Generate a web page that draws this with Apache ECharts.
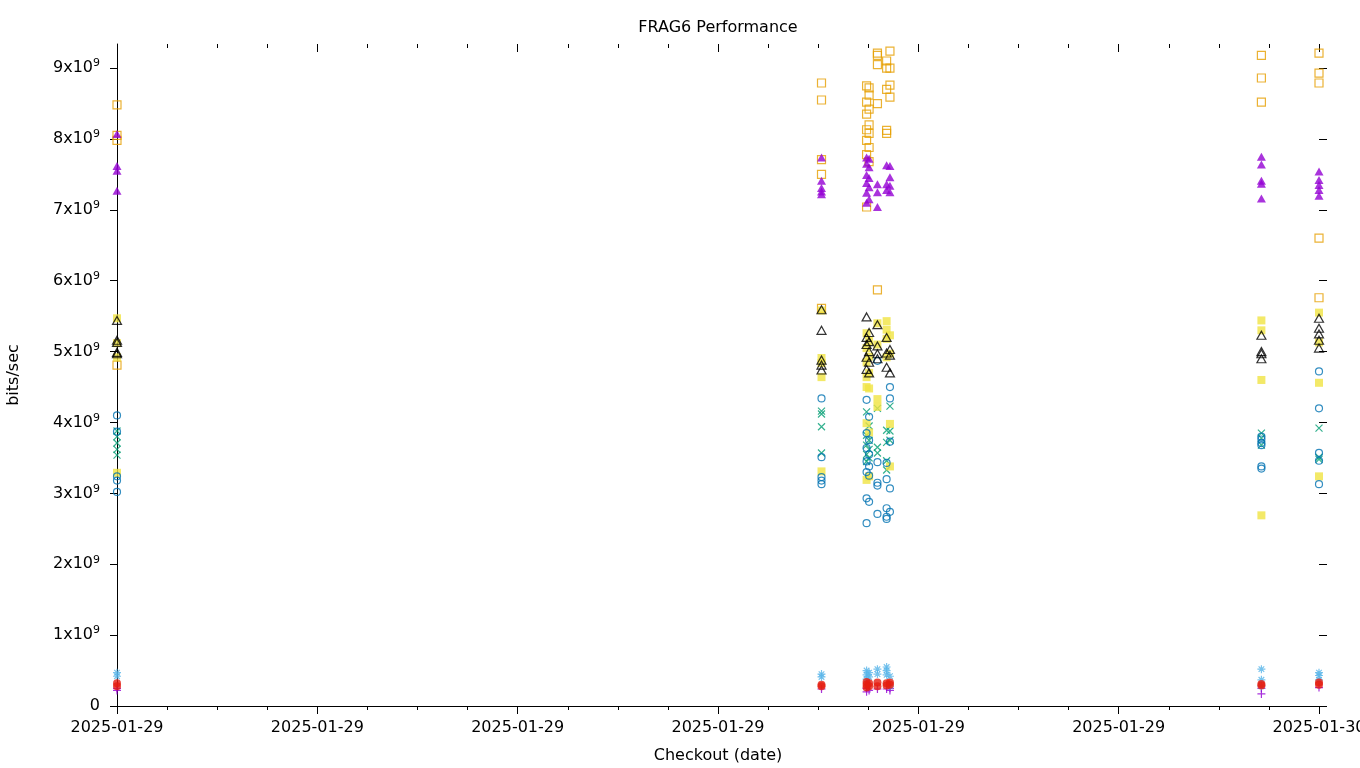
<!DOCTYPE html>
<html>
<head>
<meta charset="utf-8">
<title>FRAG6 Performance</title>
<script src="https://cdn.jsdelivr.net/npm/echarts@6/dist/echarts.min.js"></script>
<style>
  html, body { margin: 0; padding: 0; background: #fff; }
  #chart { width: 1360px; height: 768px; }
</style>
</head>
<body>
<div id="chart"></div>
<script>
  // checkout times (hours counted from 2025-01-29 00:00)
  var checkouts = ['00:00', '14:04', '14:58', '15:01', '15:11', '15:22', '15:26', '22:51', '24:00'];
  var xTickLabels = ['2025-01-29', '2025-01-29', '2025-01-29', '2025-01-29', '2025-01-29', '2025-01-29', '2025-01-30'];
  var yTicks = [0, 1, 2, 3, 4, 5, 6, 7, 8, 9];

  // values in units of 10^9 bits/sec, one list per checkout
  var plusPurple = [[0.25, 0.22], [0.24], [0.25, 0.20], [0.22], [0.24], [0.24], [0.22, 0.25], [0.25, 0.17], [0.26]];
  var crossGreen = [[3.88, 3.80, 3.71, 3.62, 3.54], [4.16, 4.12, 3.94, 3.57], [4.15, 3.82, 3.68, 3.55, 3.45], [3.95, 3.75, 3.62, 3.50],
    [4.20, 3.65, 3.57], [3.89, 3.72, 3.46, 3.33], [4.23, 3.88, 3.75], [3.85, 3.78, 3.68], [3.92, 3.51, 3.48]];
  var starSky = [[0.47, 0.42], [0.45, 0.41], [0.50, 0.44, 0.38], [0.47, 0.41], [0.52, 0.45], [0.55, 0.50, 0.44], [0.42, 0.28],
    [0.52, 0.37, 0.28], [0.47, 0.43, 0.37]];
  var squareOrange = [[8.48, 8.05, 7.98, 4.81], [8.79, 8.55, 7.71, 7.50, 5.61], [8.75, 8.52, 8.35, 8.13, 7.98, 7.78, 7.04],
    [8.72, 8.62, 8.42, 8.20, 8.08, 7.88, 7.68], [9.21, 9.18, 9.05, 8.50, 5.87], [9.10, 9.00, 8.70, 8.12, 8.08],
    [9.24, 9.00, 8.76, 8.59], [9.18, 8.86, 8.52], [9.21, 8.93, 8.79, 6.60, 5.76]];
  var boxYellow = [[5.47, 5.12, 4.92, 3.29], [5.58, 4.91, 4.84, 4.64, 3.31], [5.26, 5.05, 4.85, 4.64, 4.50, 3.99, 3.19],
    [5.15, 4.93, 4.70, 4.48, 3.86, 3.24], [5.40, 5.10, 4.33, 4.22], [5.43, 5.31, 5.18, 4.92], [5.23, 4.97, 3.98, 3.38],
    [5.44, 5.30, 4.60, 2.69], [5.55, 5.13, 4.56, 3.24]];
  var circleBlue = [[4.10, 3.87, 3.24, 3.18, 3.02], [4.34, 3.51, 3.23, 3.18, 3.13], [4.32, 3.85, 3.64, 3.45, 3.30, 2.93, 2.58],
    [4.08, 3.75, 3.55, 3.38, 3.25, 2.88], [4.87, 3.44, 3.15, 3.11, 2.71], [3.43, 3.20, 2.79, 2.67, 2.64],
    [4.50, 4.34, 3.73, 3.07, 2.74], [3.80, 3.76, 3.71, 3.68, 3.38, 3.35], [4.72, 4.20, 3.57, 3.46, 3.13]];
  var dotRed = [[0.32, 0.28], [0.30, 0.28], [0.34, 0.30, 0.26], [0.32, 0.28], [0.33, 0.28], [0.32, 0.29], [0.33, 0.30],
    [0.31, 0.29], [0.33, 0.30]];
  var triBlack = [[5.44, 5.16, 5.13, 4.99, 4.97], [5.59, 5.30, 4.88, 4.81, 4.74], [5.49, 5.20, 5.10, 4.92, 4.75],
    [5.27, 5.14, 5.00, 4.85, 4.70], [5.38, 5.08, 4.97, 4.90], [5.20, 4.98, 4.78], [5.03, 4.95, 4.70],
    [5.23, 5.00, 4.97, 4.90], [5.47, 5.33, 5.25, 5.16, 5.05]];
  var triPurple = [[8.07, 7.62, 7.55, 7.27], [7.74, 7.41, 7.31, 7.26, 7.22], [7.74, 7.65, 7.49, 7.38, 7.24, 7.10],
    [7.72, 7.60, 7.45, 7.32, 7.15], [7.36, 7.25, 7.04], [7.63, 7.36, 7.28], [7.62, 7.46, 7.34, 7.25],
    [7.75, 7.64, 7.41, 7.37, 7.16], [7.54, 7.42, 7.35, 7.28, 7.20]];

  var FONT = 'DejaVu Sans';
  var hours = checkouts.map(function (t) {
    var p = t.split(':');
    return +p[0] + p[1] / 60;
  });

  function points(list) {
    var out = [];
    list.forEach(function (vals, i) {
      vals.forEach(function (v) { out.push([hours[i], v]); });
    });
    return out;
  }

  var PLUS = 'path://M0,5L10,5M5,0L5,10';
  var CROSS = 'path://M0,0L10,10M10,0L0,10';
  var STAR = 'path://M0,5L10,5M5,0L5,10M1.5,1.5L8.5,8.5M8.5,1.5L1.5,8.5';

  function outline(name, list, symbol, size, color) {
    return {
      name: name, type: 'scatter', data: points(list), symbol: symbol, symbolSize: size,
      itemStyle: { color: 'rgba(0,0,0,0)', borderColor: color, borderWidth: 1.2 }
    };
  }
  function filled(name, list, symbol, size, color) {
    return {
      name: name, type: 'scatter', data: points(list), symbol: symbol, symbolSize: size,
      itemStyle: { color: color }
    };
  }

  var chart = echarts.init(document.getElementById('chart'));
  var option = {
    animation: false,
    backgroundColor: '#ffffff',
    textStyle: { fontFamily: FONT },
    title: {
      text: 'FRAG6 Performance', left: 713, top: 15, textAlign: 'center',
      textStyle: { fontFamily: FONT, fontSize: 16, fontWeight: 'normal', color: '#000' }
    },
    grid: { left: 117, right: 41, top: 44, bottom: 62, outerBoundsMode: 'none' },
    xAxis: [{
      type: 'value', min: 0, max: 24, interval: 4,
      name: 'Checkout (date)', nameLocation: 'middle', nameGap: 42,
      nameTextStyle: { fontFamily: FONT, fontSize: 16, color: '#000' },
      axisLine: { show: true, onZero: false, lineStyle: { color: '#000', width: 1 } },
      axisTick: { show: true, length: 8, lineStyle: { color: '#000' } },
      minorTick: { show: true, splitNumber: 4, length: 4, lineStyle: { color: '#000' } },
      splitLine: { show: false },
      axisLabel: {
        margin: 14, fontFamily: FONT, fontSize: 16, color: '#000',
        formatter: function (v) { return xTickLabels[Math.round(v / 4)]; }
      }
    }, {
      type: 'value', position: 'top', min: 0, max: 24, interval: 4,
      axisLine: { show: false, onZero: false },
      axisTick: { show: true, inside: true, length: 8, lineStyle: { color: '#000' } },
      minorTick: { show: true, splitNumber: 4, length: 4, lineStyle: { color: '#000' } },
      splitLine: { show: false },
      axisLabel: { show: false }
    }],
    yAxis: [{
      type: 'value', min: 0, max: 9.34, interval: 1,
      name: 'bits/sec', nameLocation: 'middle', nameGap: 95, nameRotate: 90,
      nameTextStyle: { fontFamily: FONT, fontSize: 16, color: '#000' },
      axisLine: { show: true, onZero: false, lineStyle: { color: '#000', width: 1 } },
      axisTick: { show: true, length: 7, customValues: yTicks, lineStyle: { color: '#000' } },
      splitLine: { show: false },
      axisLabel: {
        margin: 17, customValues: yTicks, color: '#000',
        formatter: function (v) { return v === 0 ? '{b|0}' : '{b|' + v + 'x10}{s|9}'; },
        rich: {
          b: { fontFamily: FONT, fontSize: 16, color: '#000', lineHeight: 20 },
          s: { fontFamily: FONT, fontSize: 11, color: '#000', verticalAlign: 'top', lineHeight: 20, padding: [0, 0, 10, 0] }
        }
      }
    }, {
      type: 'value', position: 'right', min: 0, max: 9.34, interval: 1,
      axisLine: { show: false, onZero: false },
      axisTick: { show: true, length: 8, customValues: yTicks, lineStyle: { color: '#000' } },
      splitLine: { show: false },
      axisLabel: { show: false }
    }],
    series: [
      outline('plus', plusPurple, PLUS, 8, '#9400d3'),
      outline('cross', crossGreen, CROSS, 7, '#009e73'),
      outline('star', starSky, STAR, 8, '#56b4e9'),
      outline('square', squareOrange, 'rect', 8, '#e69f00'),
      filled('box', boxYellow, 'rect', 8, '#f0e442'),
      outline('circle', circleBlue, 'circle', 7, '#0072b2'),
      filled('dot', dotRed, 'circle', 8, '#e51e10'),
      outline('triangle', triBlack, 'triangle', [9, 8], '#000000'),
      filled('filledTriangle', triPurple, 'triangle', [9, 8], '#9400d3')
    ]
  };
  chart.setOption(option);
</script>
</body>
</html>
